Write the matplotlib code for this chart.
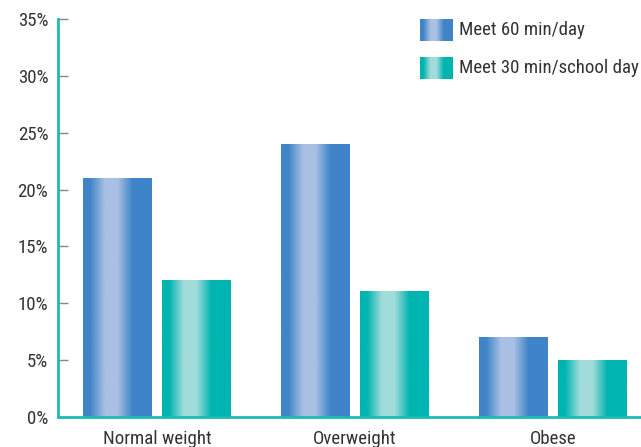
import numpy as np
import matplotlib
matplotlib.use("Agg")
import matplotlib.pyplot as plt
from matplotlib import font_manager
from matplotlib.colors import LinearSegmentedColormap

categories = ["Normal weight", "Overweight", "Obese"]
meet_60 = [21, 24, 7]
meet_30 = [12, 11, 5]
series_names = ["Meet 60 min/day", "Meet 30 min/school day"]
y_ticks = [0, 5, 10, 15, 20, 25, 30, 35]

# pick a condensed face if one is around
installed = {f.name for f in font_manager.fontManager.ttflist}
narrow = [n for n in ["Liberation Sans Narrow", "DejaVu Sans Condensed",
                      "Roboto Condensed", "Open Sans Condensed"] if n in installed]
if narrow:
    plt.rcParams['font.family'] = [narrow[0], 'DejaVu Sans']
    FS = 13.6
else:
    plt.rcParams['font.family'] = ['Roboto', 'DejaVu Sans']
    FS = 12

TEAL = "#1bbcb4"
TEXT = "#333333"

# horizontal shading profile: dark edge, light band a bit left of centre
prof_x = [0.0, 0.10, 0.32, 0.50, 0.72, 1.0]
prof_v = [0.0, 0.0, 1.0, 1.0, 0.0, 0.0]
xs = np.linspace(0, 1, 200)
shade = np.interp(xs, prof_x, prof_v)[None, :]

blue_cmap = LinearSegmentedColormap.from_list("b", ["#3f84c8", "#a9c0e4"])
teal_cmap = LinearSegmentedColormap.from_list("t", ["#00b4b0", "#a2dcda"])

fig = plt.figure(figsize=(6.41, 4.47), dpi=100)
ax = fig.add_axes([58 / 641, 30 / 447, 1 - 58 / 641, 398 / 447])

x = np.arange(len(categories))
width = 0.348
bars_a = ax.bar(x - 0.2, meet_60, width, color="none", edgecolor="none")
bars_b = ax.bar(x + 0.2, meet_30, width, color="none", edgecolor="none")


def paint(bars, cmap):
    for b in bars:
        x0, w, h = b.get_x(), b.get_width(), b.get_height()
        ax.imshow(shade, cmap=cmap, vmin=0, vmax=1, aspect="auto",
                  extent=(x0, x0 + w, 0, h), interpolation="bilinear", zorder=2)


paint(bars_a, blue_cmap)
paint(bars_b, teal_cmap)

ax.set_xlim(-0.5, 2.444)
ax.set_ylim(0, 35)
ax.set_yticks(y_ticks)
ax.set_yticklabels([f"{v}%" for v in y_ticks], fontsize=FS, color=TEXT)
ax.set_xticks(x)
ax.set_xticklabels(categories, fontsize=FS, color=TEXT)
ax.tick_params(axis="y", direction="in", length=7.5, width=1, color="#888888", pad=7)
ax.tick_params(axis="x", length=0, pad=9)

for s in ["top", "right"]:
    ax.spines[s].set_visible(False)
for s in ["left", "bottom"]:
    ax.spines[s].set_color(TEAL)
    ax.spines[s].set_linewidth(2)
    ax.spines[s].set_zorder(3)

# legend built by hand so the swatches keep the shading
legend_items = [(series_names[0], blue_cmap, 19), (series_names[1], teal_cmap, 57)]
for label, cmap, top in legend_items:
    sw = fig.add_axes([420 / 641, 1 - (top + 22) / 447, 33 / 641, 22 / 447])
    sw.imshow(shade, cmap=cmap, vmin=0, vmax=1, aspect="auto", interpolation="bilinear")
    sw.axis("off")
    fig.text(459 / 641, 1 - (top + 11) / 447, label, fontsize=FS, color=TEXT,
             va="center", ha="left")

fig.savefig("out.png", dpi=100)
